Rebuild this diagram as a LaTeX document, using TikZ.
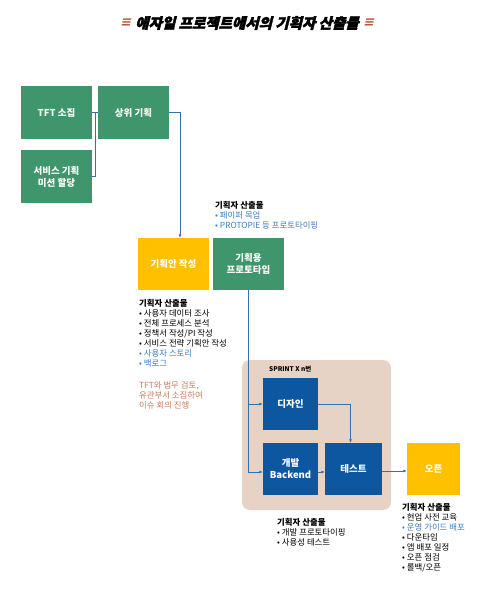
\documentclass[tikz,border=0pt]{standalone}
\usepackage{fontspec}
\setmainfont{Noto Sans CJK KR}
\newfontfamily\titlefont{Noto Sans CJK KR}[FakeSlant=0.25, FakeBold=2.5]
\newfontfamily\markfont{DejaVu Sans}[FakeSlant=0.25]
\usetikzlibrary{arrows.meta}

\definecolor{boxgreen}{RGB}{64,150,108}
\definecolor{boxyellow}{RGB}{255,192,0}
\definecolor{boxblue}{RGB}{13,86,160}
\definecolor{sprintbg}{RGB}{230,211,198}
\definecolor{linkblue}{RGB}{52,112,172}
\definecolor{noteblue}{RGB}{58,124,192}
\definecolor{notebrown}{RGB}{199,123,91}
\definecolor{markred}{RGB}{181,88,60}

\tikzset{
  card/.style={
    minimum width=71pt, minimum height=53pt,
    inner sep=1pt, align=center,
    text=white, font=\fontsize{9.5}{12}\selectfont\bfseries,
  },
  greencard/.style={card, fill=boxgreen},
  yellowcard/.style={card, fill=boxyellow},
  bluecard/.style={card, fill=boxblue, minimum width=55pt, minimum height=52pt},
  note/.style={
    anchor=north west, inner sep=0pt, align=left,
    font=\fontsize{8.4}{10}\selectfont,
  },
  titlemark/.style={inner sep=0pt, text=markred, font=\markfont\fontsize{13}{14}\selectfont\bfseries},
  link/.style={draw=linkblue, line width=0.8pt},
  tip/.style={link, -{Latex[length=3.5pt,width=3pt]}},
}

\begin{document}
\begin{tikzpicture}[x=1pt,y=-1pt]

\useasboundingbox (0,0) rectangle (478,610);

% title
\node[inner sep=0pt, font=\titlefont\fontsize{14.5}{16}\selectfont\bfseries] (title) at (247,23)
  {애자일 프로젝트에서의 기획자 산출물};
\node[titlemark, anchor=east] (markl) at ([xshift=-4pt]title.west) {≡};
\node[titlemark, anchor=west] (markr) at ([xshift=4pt]title.east) {≡};

% sprint area
\fill[sprintbg, rounded corners=8pt] (242,360) rectangle (391,510);
\node[anchor=west, inner sep=0pt, font=\fontsize{6.5}{8}\selectfont\bfseries] (sprint) at (269,369) {SPRINT X \textit{n}번};

\node[greencard] (tft) at (56.5,112.5) {TFT 소집};
\node[greencard] (upper) at (133.5,112.5) {상위 기획};
\node[greencard] (service) at (56.5,176.5) {서비스 기획\\미션 할당};

\node[yellowcard, minimum height=52pt] (plan) at (173.5,264) {기획안 작성};
\node[greencard, minimum height=52pt] (proto) at (248.5,264) {기획용\\프로토타입};

\node[bluecard] (design) at (290.5,404) {디자인};
\node[bluecard] (dev) at (290.5,469) {개발\\Backend};
\node[bluecard, minimum width=57pt] (test) at (353.5,469) {테스트};
\node[yellowcard, minimum width=53pt, minimum height=52pt] (open) at (433.5,469) {오픈};

% connectors
\draw[link] (tft.east) -- (upper.west);
\draw[link] (service.east) -- ++(3,0) |- (upper.west);
\draw[tip] (upper.east) -| ([xshift=6.5pt]plan.north);
\draw[tip] (proto.south) |- ([yshift=-3pt]dev.west);
\draw[tip] (proto.south |- design.west) -- (design.west);
\draw[tip] (design.east) -| ([xshift=-3pt]test.north);
\draw[tip] ([yshift=-3pt]dev.east) -- ([yshift=-3pt]test.west);
\draw[tip] ([yshift=-2pt]test.east) -- ([yshift=-2pt]open.west);

% planner outputs
\node[note] (outproto) at (215,201) {%
  \textbf{기획자 산출물}\\
  \textcolor{noteblue}{• 페이퍼 목업}\\
  \textcolor{noteblue}{• PROTOPIE 등 프로토타이핑}};
\node[note] (outplan) at (139,299) {%
  \textbf{기획자 산출물}\\
  • 사용자 데이터 조사\\
  • 전체 프로세스 분석\\
  • 정책서 작성/PI 작성\\
  • 서비스 전략 기획안 작성\\
  \textcolor{noteblue}{• 사용자 스토리}\\
  \textcolor{noteblue}{• 백로그}};
\node[note, text=notebrown] (legal) at (139,381) {%
  TFT와 법무 검토,\\
  유관부서 소집하여\\
  이슈 회의 진행};
\node[note] (outsprint) at (277,518) {%
  \textbf{기획자 산출물}\\
  • 개발 프로토타이핑\\
  • 사용성 테스트};
\node[note] (outopen) at (402,503) {%
  \textbf{기획자 산출물}\\
  • 현업 사전 교육\\
  \textcolor{noteblue}{• 운영 가이드 배포}\\
  • 다운타임\\
  • 앱 배포 일정\\
  • 오픈 점검\\
  • 롤백/오픈};

\end{tikzpicture}
\end{document}
